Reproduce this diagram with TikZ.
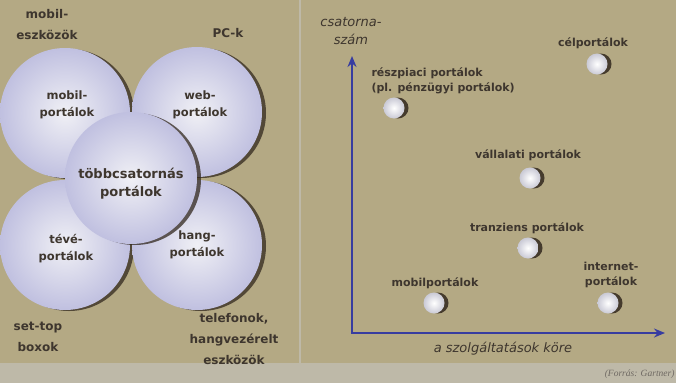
\documentclass[tikz,border=0pt]{standalone}
\usepackage{fontspec}
\setmainfont{DejaVu Sans}
\newfontfamily\forrasfont{Liberation Serif}
\usetikzlibrary{arrows.meta}
\definecolor{hatter}{RGB}{180,169,132}
\definecolor{keret}{RGB}{190,185,168}
\definecolor{betu}{RGB}{62,54,46}
\definecolor{lila}{RGB}{192,192,224}
\definecolor{kozep}{RGB}{240,240,245}
\definecolor{tengely}{RGB}{55,60,160}
\definecolor{arnyek}{RGB}{50,40,30}
\tikzset{
    kor/.style = {circle, minimum size=130pt, inner sep=0pt, inner color=kozep, outer color=lila},
    korarnyek/.style = {circle, minimum size=130pt, inner sep=0pt, fill=arnyek, opacity=0.75},
    korfelirat/.style = {align=center, text=betu, font=\bfseries\fontsize{11.5}{17}\selectfont},
    felirat/.style = {align=center, text=betu, font=\bfseries\fontsize{12}{21}\selectfont},
    golyo/.style = {circle, minimum size=21pt, inner sep=0pt, inner color=white, outer color=lila!60!gray!60},
    golyoarnyek/.style = {circle, minimum size=21pt, inner sep=0pt, fill=arnyek, opacity=0.85},
    pont/.style = {align=center, text=betu, font=\bfseries\fontsize{11}{15.5}\selectfont},
    tengelyfelirat/.style = {align=center, text=betu, font=\itshape\fontsize{13}{18}\selectfont}
}
\begin{document}
\begin{tikzpicture}[x=1pt, y=-1pt]
\useasboundingbox (0,0) rectangle (676,383);
\fill[keret] (0,0) rectangle (676,383);
\fill[hatter] (0,0) rectangle (299,363);
\fill[hatter] (301,0) rectangle (676,363);
%
% bal oldal: portalok korei
\begin{scope}
\clip (0,0) rectangle (299,363);
\node[korarnyek] (mobilkor-a) at (69,114) {};
\node[kor] (mobilkor) at (65,113) {};
\node[korarnyek] (webkor-a) at (201,113) {};
\node[kor] (webkor) at (197,112) {};
\node[korarnyek] (tevekor-a) at (69,246) {};
\node[kor] (tevekor) at (65,245) {};
\node[korarnyek] (hangkor-a) at (201,246) {};
\node[kor] (hangkor) at (197,245) {};
\node[korarnyek, minimum size=132pt] (tobbkor-a) at (135,179) {};
\node[kor, minimum size=132pt] (tobbkor) at (131,178) {};
\end{scope}
\node[korfelirat] (mobilkor-t) at (67,105) {mobil-\\portálok};
\node[korfelirat] (webkor-t) at (200,105) {web-\\portálok};
\node[korfelirat] (tevekor-t) at (66,249) {tévé-\\portálok};
\node[korfelirat] (hangkor-t) at (197,245) {hang-\\portálok};
\node[korfelirat, font=\bfseries\fontsize{13}{18}\selectfont] (tobbkor-t) at (131,184) {többcsatornás\\portálok};
%
\node[felirat] (mobileszk) at (47,25) {mobil-\\eszközök};
\node[felirat] (pck) at (228,33) {PC-k};
\node[felirat] (settop) at (38,337) {set-top\\boxok};
\node[felirat] (telefon) at (234,339) {telefonok,\\hangvezérelt\\eszközök};
%
% jobb oldal: diagram
\coordinate (origo) at (352,333);
\coordinate (yvege) at (352,56);
\coordinate (xvege) at (665,333);
\draw[tengely, line width=2.5pt, {Stealth[length=11pt,width=9pt]}-{Stealth[length=11pt,width=9pt]}] (yvege) -- (origo) -- (xvege);
\node[tengelyfelirat] (csatorna) at (351,31) {csatorna-\\szám};
\node[tengelyfelirat] (kore) at (503,349) {a szolgáltatások köre};
%
\node[golyoarnyek] (cel-a) at (601,64) {};
\node[golyo] (cel) at (597,64) {};
\node[golyoarnyek] (reszpiaci-a) at (398,108) {};
\node[golyo] (reszpiaci) at (394,108) {};
\node[golyoarnyek] (vallalati-a) at (534,178) {};
\node[golyo] (vallalati) at (530,178) {};
\node[golyoarnyek] (tranziens-a) at (532,248) {};
\node[golyo] (tranziens) at (528,248) {};
\node[golyoarnyek] (mobil-a) at (438,303) {};
\node[golyo] (mobil) at (434,303) {};
\node[golyoarnyek] (internet-a) at (612,303) {};
\node[golyo] (internet) at (608,303) {};
%
\node[pont] (cel-t) at (593,43) {célportálok};
\node[pont, anchor=west, align=left] (reszpiaci-t) at (368,81) {részpiaci portálok\\(pl. pénzügyi portálok)};
\node[pont] (vallalati-t) at (528,155) {vállalati portálok};
\node[pont] (tranziens-t) at (527,228) {tranziens portálok};
\node[pont] (mobil-t) at (435,283) {mobilportálok};
\node[pont] (internet-t) at (611,275) {internet-\\portálok};
%
\node[anchor=east, text=betu!75, font=\forrasfont\itshape\fontsize{9.5}{10}\selectfont] (forras) at (678,374) {(Forrás: Gartner)};
\end{tikzpicture}
\end{document}
